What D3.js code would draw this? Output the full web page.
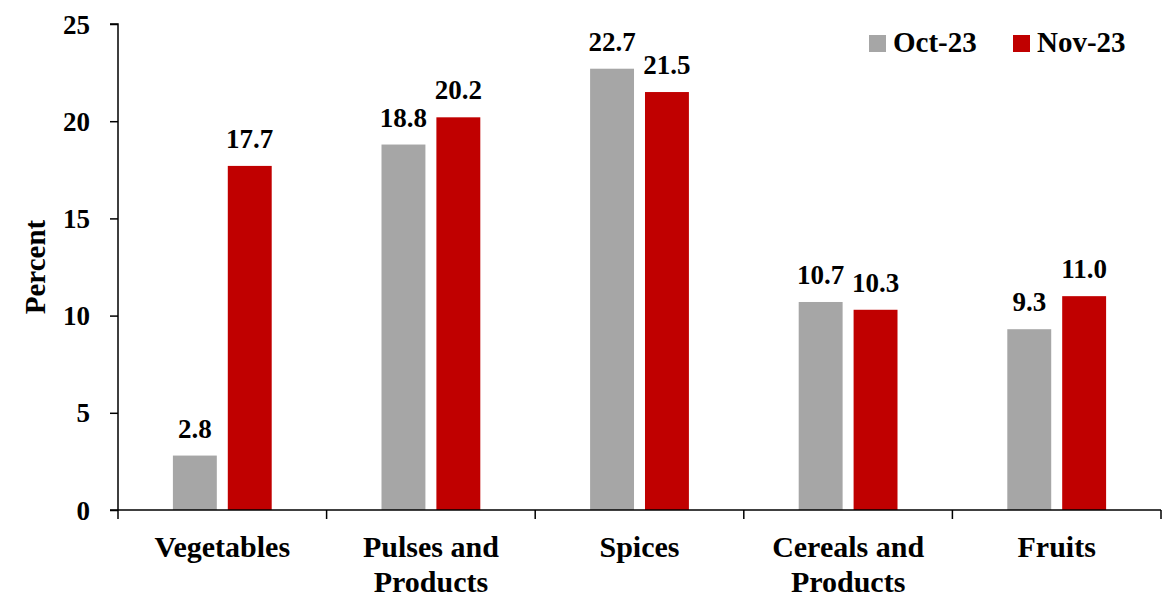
<!DOCTYPE html>
<html>
<head>
<meta charset="utf-8">
<script src="https://cdn.jsdelivr.net/npm/d3@7"></script>
</head>
<body style="margin:0;background:#fff">
<svg id="chart" width="1175" height="597"></svg>
<script>
// Food inflation by group, percent
const categories = [["Vegetables"], ["Pulses and", "Products"], ["Spices"], ["Cereals and", "Products"], ["Fruits"]];
const seriesNames = ["Oct-23", "Nov-23"];
const oct23 = [2.8, 18.8, 22.7, 10.7, 9.3];
const nov23 = [17.7, 20.2, 21.5, 10.3, 11.0];
const yTicks = [0, 5, 10, 15, 20, 25];
const colors = ["#A6A6A6", "#C00000"];

function styleText(sel, size) {
  return sel.attr("font-family", "Liberation Serif").attr("font-weight", "bold")
    .attr("font-size", size).attr("fill", "#000")
    .style("font-family", "Liberation Serif").style("font-weight", "bold").style("font-size", size + "px");
}

const svg = d3.select("#chart");
const plotLeft = 118, plotRight = 1161, plotTop = 24, plotBottom = 510;

const x = d3.scaleBand().domain(d3.range(categories.length)).range([plotLeft, plotRight]).paddingInner(0).paddingOuter(0);
const x1 = d3.scaleBand().domain([0, 1]).range([0, x.bandwidth()]).paddingInner(0.2).paddingOuter(1.0);
const y = d3.scaleLinear().domain([0, 25]).range([plotBottom, plotTop]);

const series = [oct23, nov23];

// bars and value labels
series.forEach((vals, si) => {
  svg.append("g").selectAll("rect").data(vals).join("rect")
    .attr("x", (d, i) => x(i) + x1(si))
    .attr("y", d => y(d))
    .attr("width", x1.bandwidth())
    .attr("height", d => y(0) - y(d))
    .attr("fill", colors[si]);
  styleText(svg.append("g").selectAll("text").data(vals).join("text")
    .attr("x", (d, i) => x(i) + x1(si) + x1.bandwidth() / 2)
    .attr("y", d => y(d) - 18)
    .attr("text-anchor", "middle")
    .text(d => d.toFixed(1)), 27);
});

// y axis
const yAxis = d3.axisLeft(y).tickValues(yTicks).tickSize(8).tickPadding(20);
const gy = svg.append("g").attr("transform", `translate(${plotLeft},0)`).call(yAxis)
  .attr("font-family", "Liberation Serif");
gy.select(".domain").attr("stroke", "#000").attr("stroke-width", 1.5).attr("d", `M-8,${plotTop}H0V${plotBottom}`);
gy.selectAll(".tick line").attr("stroke", "#000").attr("stroke-width", 1.5);
styleText(gy.selectAll(".tick text"), 27).attr("dy", "0.34em");

// x axis with category boundary ticks
const gx = svg.append("g").attr("transform", `translate(0,${plotBottom})`);
gx.append("line").attr("x1", plotLeft - 8).attr("x2", plotRight).attr("y1", 0).attr("y2", 0)
  .attr("stroke", "#000").attr("stroke-width", 1.5);
const bounds = d3.range(categories.length + 1).map(i => i < categories.length ? x(i) : x(i - 1) + x.bandwidth());
gx.selectAll("line.b").data(bounds).join("line").attr("class", "b")
  .attr("x1", d => d).attr("x2", d => d).attr("y1", 0).attr("y2", 9)
  .attr("stroke", "#000").attr("stroke-width", 1.5);
styleText(gx.selectAll("text.cat").data(categories).join("text").attr("class", "cat")
  .attr("text-anchor", "middle")
  .attr("transform", (d, i) => `translate(${x(i) + x.bandwidth() / 2},47)`), 30)
  .each(function (lines) {
    d3.select(this).selectAll("tspan").data(lines).join("tspan")
      .attr("x", 0).attr("dy", (l, j) => j === 0 ? 0 : 35).text(l => l);
  });

// y axis title
styleText(svg.append("text")
  .attr("transform", `translate(45,${(plotTop + plotBottom) / 2}) rotate(-90)`)
  .attr("text-anchor", "middle")
  .text("Percent"), 29);

// legend
const legendX = [869, 1013];
seriesNames.forEach((name, i) => {
  svg.append("rect").attr("x", legendX[i]).attr("y", 35).attr("width", 17).attr("height", 17).attr("fill", colors[i]);
  styleText(svg.append("text").attr("x", legendX[i] + 24).attr("y", 52).text(name), 29);
});
</script>
</body>
</html>
